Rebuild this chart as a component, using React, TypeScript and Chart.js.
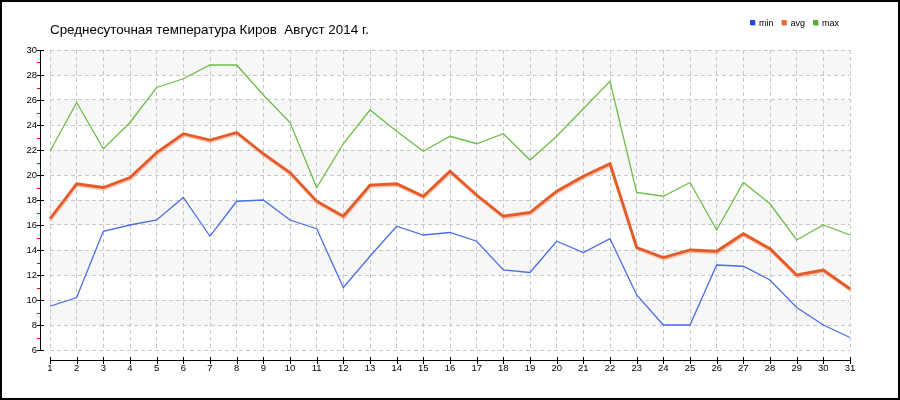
import React, { useEffect, useRef } from "react";
import { Chart, registerables } from "chart.js";

Chart.register(...registerables);

const titleText = "Среднесуточная температура Киров  Август 2014 г.";

const days = [
  "1", "2", "3", "4", "5", "6", "7", "8", "9", "10",
  "11", "12", "13", "14", "15", "16", "17", "18", "19", "20",
  "21", "22", "23", "24", "25", "26", "27", "28", "29", "30", "31",
];

const minT = [
  9.5, 10.2, 15.5, 16.0, 16.4, 18.2, 15.1, 17.9, 18.0, 16.4,
  15.7, 11.0, 13.5, 15.9, 15.2, 15.4, 14.7, 12.4, 12.2, 14.7,
  13.8, 14.9, 10.4, 8.0, 8.0, 12.8, 12.7, 11.6, 9.4, 8.0, 7.0,
];

const avgT = [
  16.5, 19.3, 19.0, 19.8, 21.8, 23.3, 22.8, 23.4, 21.7, 20.2,
  17.9, 16.7, 19.2, 19.3, 18.3, 20.3, 18.4, 16.7, 17.0, 18.7,
  19.9, 20.9, 14.2, 13.4, 14.0, 13.9, 15.3, 14.1, 12.0, 12.4, 10.9,
];

const maxT = [
  21.9, 25.8, 22.1, 24.2, 27.0, 27.7, 28.8, 28.8, 26.4, 24.2,
  19.0, 22.5, 25.2, 23.5, 21.9, 23.1, 22.5, 23.3, 21.2, 23.1,
  25.3, 27.5, 18.6, 18.3, 19.4, 15.6, 19.4, 17.7, 14.8, 16.0, 15.2,
];

const seriesNames = ["min", "avg", "max"];
const lineColors = ["#4a6ee6", "#e25b28", "#6cbd48"];
const legendColors = ["#2146e0", "#f0682e", "#55b12c"];

const yMin = 6;
const yMax = 30;
const yStep = 2;
const minorTicks = [7, 9, 11, 13, 15, 17, 19, 21, 23, 25, 27, 29];
const bands: [number, number][] = [
  [8, 10], [12, 14], [16, 18], [20, 22], [24, 26], [28, 30],
];

const FONT = "'Liberation Sans', Arial, sans-serif";

const decor = {
  id: "decor",
  beforeDraw(chart: any) {
    const { ctx, chartArea: a } = chart;
    const y = chart.scales.y;
    ctx.save();
    ctx.fillStyle = "#ffffff";
    ctx.fillRect(0, 0, chart.width, chart.height);
    ctx.fillStyle = "#f7f7f7";
    for (const [lo, hi] of bands) {
      const t = y.getPixelForValue(hi);
      const b = y.getPixelForValue(lo);
      ctx.fillRect(a.left, t, a.right - a.left, b - t);
    }
    ctx.restore();
  },
  beforeDatasetDraw(chart: any, args: any) {
    if (args.index === 1) {
      const ctx = chart.ctx;
      ctx.save();
      ctx.shadowColor = "rgba(240,140,100,0.55)";
      ctx.shadowOffsetX = 0.5;
      ctx.shadowOffsetY = 1.5;
      ctx.shadowBlur = 1;
    }
  },
  afterDatasetDraw(chart: any, args: any) {
    if (args.index === 1) chart.ctx.restore();
  },
  afterDraw(chart: any) {
    const { ctx, chartArea: a } = chart;
    const x = chart.scales.x;
    const y = chart.scales.y;
    ctx.save();
    // y axis
    const ax = 40.5;
    ctx.strokeStyle = "#000";
    ctx.lineWidth = 1;
    ctx.beginPath();
    ctx.moveTo(ax, y.getPixelForValue(yMax));
    ctx.lineTo(ax, y.getPixelForValue(yMin));
    ctx.stroke();
    for (let v = yMin; v <= yMax; v += yStep) {
      const py = Math.round(y.getPixelForValue(v)) + 0.5;
      ctx.beginPath();
      ctx.moveTo(37, py);
      ctx.lineTo(44, py);
      ctx.stroke();
    }
    ctx.strokeStyle = "#ff0000";
    for (const v of minorTicks) {
      const py = Math.round(y.getPixelForValue(v)) + 0.5;
      ctx.beginPath();
      ctx.moveTo(37, py);
      ctx.lineTo(40, py);
      ctx.stroke();
    }
    // x axis
    const ay = 360.5;
    ctx.strokeStyle = "#000";
    ctx.beginPath();
    ctx.moveTo(x.getPixelForValue(0), ay);
    ctx.lineTo(x.getPixelForValue(days.length - 1), ay);
    ctx.stroke();
    for (let i = 0; i < days.length; i++) {
      const px = Math.round(x.getPixelForValue(i)) + 0.5;
      ctx.beginPath();
      ctx.moveTo(px, 357);
      ctx.lineTo(px, 364);
      ctx.stroke();
    }
    // title
    ctx.fillStyle = "#000";
    ctx.font = `13.4px ${FONT}`;
    ctx.textAlign = "left";
    ctx.textBaseline = "alphabetic";
    ctx.fillText(titleText, a.left, 34);
    // legend
    ctx.font = `9px ${FONT}`;
    let lx = 750;
    for (let i = 0; i < seriesNames.length; i++) {
      ctx.fillStyle = "#c8c8c8";
      ctx.fillRect(lx + 1, 21, 5, 5);
      ctx.fillStyle = legendColors[i];
      ctx.fillRect(lx, 20, 5, 5);
      ctx.fillStyle = "#000";
      ctx.fillText(seriesNames[i], lx + 9, 26);
      lx += 9 + ctx.measureText(seriesNames[i]).width + 8;
    }
    // frame
    ctx.strokeStyle = "#000";
    ctx.lineWidth = 2;
    ctx.strokeRect(1, 1, chart.width - 2, chart.height - 2);
    ctx.restore();
  },
};

export default function App() {
  const ref = useRef<HTMLCanvasElement>(null);
  useEffect(() => {
    if (!ref.current) return;
    const chart = new Chart(ref.current, {
      type: "line",
      data: {
        labels: days,
        datasets: [
          { label: seriesNames[0], data: minT, borderColor: lineColors[0], borderWidth: 1.3 },
          { label: seriesNames[1], data: avgT, borderColor: lineColors[1], borderWidth: 2.8 },
          { label: seriesNames[2], data: maxT, borderColor: lineColors[2], borderWidth: 1.3 },
        ].map((d) => ({ ...d, pointRadius: 0, pointHoverRadius: 0, tension: 0, fill: false })),
      },
      options: {
        animation: false,
        responsive: false,
        maintainAspectRatio: false,
        devicePixelRatio: 1,
        events: [],
        layout: { padding: { left: 0, right: 50, top: 50, bottom: 0 } },
        plugins: { legend: { display: false }, title: { display: false }, tooltip: { enabled: false } },
        scales: {
          x: {
            type: "category",
            offset: false,
            afterFit: (s: any) => { s.height = 50; },
            grid: { color: "#c8c8c8", drawTicks: false, lineWidth: 1 },
            border: { display: false, dash: [4, 3] },
            ticks: {
              autoSkip: false,
              maxRotation: 0,
              minRotation: 0,
              padding: 13,
              color: "#000",
              font: { family: FONT, size: 9.5 },
            },
          },
          y: {
            type: "linear",
            min: yMin,
            max: yMax,
            afterFit: (s: any) => { s.width = 50; },
            grid: { color: "#c8c8c8", drawTicks: false, lineWidth: 1 },
            border: { display: false, dash: [4, 3] },
            ticks: {
              stepSize: yStep,
              padding: 13,
              color: "#000",
              font: { family: FONT, size: 9.5 },
            },
          },
        },
      },
      plugins: [decor],
    } as any);
    return () => chart.destroy();
  }, []);
  return (
    <div style={{ position: "absolute", left: 0, top: 0, width: 900, height: 400, background: "#fff" }}>
      <canvas ref={ref} width={900} height={400} style={{ display: "block", width: 900, height: 400 }} />
    </div>
  );
}
